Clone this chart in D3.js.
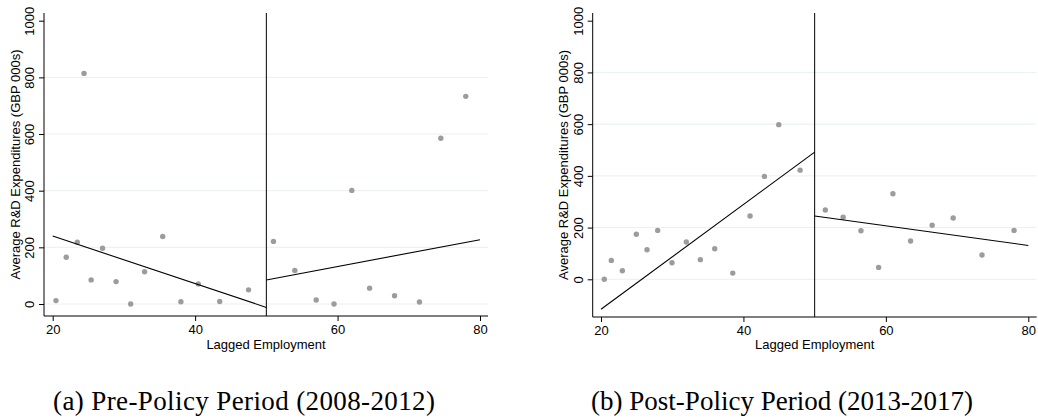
<!DOCTYPE html>
<html>
<head>
<meta charset="utf-8">
<script src="https://cdn.jsdelivr.net/npm/d3@7"></script>
<style>
  html, body { margin: 0; padding: 0; background: #fff; }
  svg { display: block; }
</style>
</head>
<body>
<div id="chart"></div>
<script>
// ----------------------------
// DATA
// ----------------------------
const cutoff = 50;
const xTicks = [20, 40, 60, 80];
const yTicks = [0, 200, 400, 600, 800, 1000];
const gridTicks = [0, 200, 400, 600, 800];

const preX = [20.46, 21.9, 23.45, 24.4, 25.4, 27.0, 28.9, 30.95, 32.9, 35.45, 38.0, 40.45, 43.45, 47.5,
              51.0, 54.0, 57.0, 59.5, 62.0, 64.5, 68.0, 71.5, 74.5, 78.0];
const preY = [12, 165, 218, 814, 85, 197, 79, 0, 114, 238, 8, 71, 9, 50,
              221, 118, 14, 0, 401, 56, 29, 7, 585, 733];
const preFitLeft = [[20, 240], [50, -12]];
const preFitRight = [[50, 85], [80, 227]];

const postX = [20.46, 21.45, 23.0, 24.96, 26.46, 27.96, 29.97, 31.98, 33.95, 35.97, 38.5, 40.93, 42.94, 44.96, 47.96,
               51.5, 54.0, 56.5, 58.98, 60.99, 63.47, 66.5, 69.45, 73.5, 78.0];
const postY = [0, 73, 33, 174, 114, 189, 64, 144, 76, 118, 24, 245, 398, 598, 422,
               268, 240, 188, 46, 331, 148, 209, 237, 94, 189];
const postFitLeft = [[20, -116], [50, 492]];
const postFitRight = [[50, 245], [80, 131]];

const yTitle = "Average R&D Expenditures (GBP 000s)";
const xTitle = "Lagged Employment";
const captions = ["(a) Pre-Policy Period (2008-2012)", "(b) Post-Policy Period (2013-2017)"];

// ----------------------------
// SVG
// ----------------------------
const width = 1038;
const height = 419;
const sans = "'Liberation Sans', Arial, Helvetica, sans-serif";

const svg = d3.select("#chart")
  .append("svg")
  .attr("width", width)
  .attr("height", height);

function drawPanel(p) {
  const g = svg.append("g");

  const x = d3.scaleLinear().domain([20, 80]).range(p.xRange);
  const y = d3.scaleLinear().domain([0, 1000]).range(p.yRange);

  // gridlines
  g.selectAll(".grid")
    .data(gridTicks)
    .join("line")
    .attr("x1", p.axisX).attr("x2", p.xEnd)
    .attr("y1", d => y(d)).attr("y2", d => y(d))
    .attr("stroke", "#e8f0f2")
    .attr("stroke-width", 1);

  // x axis
  const xa = g.append("g")
    .attr("transform", `translate(0,${p.bottom})`)
    .call(d3.axisBottom(x).tickValues(xTicks).tickSize(5).tickPadding(4).tickFormat(d3.format("d")));
  xa.select(".domain").remove();
  xa.selectAll("text").attr("font-family", sans).attr("font-size", 13).attr("fill", "#000");
  xa.selectAll("line").attr("stroke", "#000");
  g.append("line")
    .attr("x1", p.axisX).attr("x2", p.xEnd)
    .attr("y1", p.bottom).attr("y2", p.bottom)
    .attr("stroke", "#000");

  // y axis
  const ya = g.append("g")
    .attr("transform", `translate(${p.axisX},0)`)
    .call(d3.axisLeft(y).tickValues(yTicks).tickSize(5).tickFormat(d3.format("d")));
  ya.select(".domain").remove();
  ya.selectAll("line").attr("stroke", "#000");
  ya.selectAll("text")
    .attr("x", null).attr("dy", null).attr("y", 0)
    .attr("text-anchor", "middle")
    .attr("transform", "translate(-10,0) rotate(-90)")
    .attr("font-family", sans).attr("font-size", 13).attr("fill", "#000");
  g.append("line")
    .attr("x1", p.axisX).attr("x2", p.axisX)
    .attr("y1", p.top).attr("y2", p.bottom)
    .attr("stroke", "#000");

  // cutoff line
  g.append("line")
    .attr("x1", x(cutoff)).attr("x2", x(cutoff))
    .attr("y1", p.top).attr("y2", p.bottom)
    .attr("stroke", "#000");

  // points
  g.selectAll(".dot")
    .data(p.xs.map((v, i) => [v, p.ys[i]]))
    .join("circle")
    .attr("cx", d => x(d[0]))
    .attr("cy", d => y(d[1]))
    .attr("r", 2.7)
    .attr("fill", "#9c9c9c");

  // fit lines
  const line = d3.line().x(d => x(d[0])).y(d => y(d[1]));
  [p.fitLeft, p.fitRight].forEach(f => {
    g.append("path")
      .attr("d", line(f))
      .attr("fill", "none")
      .attr("stroke", "#000")
      .attr("stroke-width", 1.1);
  });

  // axis titles
  const midY = (p.top + p.bottom) / 2;
  g.append("text")
    .attr("transform", `translate(${p.axisX - 24.5},${midY}) rotate(-90)`)
    .attr("text-anchor", "middle")
    .attr("font-family", sans).attr("font-size", 13)
    .text(yTitle);

  g.append("text")
    .attr("x", (p.axisX + p.xEnd) / 2)
    .attr("y", 348.5)
    .attr("text-anchor", "middle")
    .attr("font-family", sans).attr("font-size", 13)
    .text(xTitle);

  // caption
  g.append("text")
    .attr("x", p.capX)
    .attr("y", 410)
    .attr("text-anchor", "middle")
    .attr("font-family", "'Liberation Serif', 'DejaVu Serif', serif")
    .attr("font-size", 27)
    .attr("textLength", 382)
    .attr("lengthAdjust", "spacing")
    .text(p.caption);
}

drawPanel({
  xs: preX, ys: preY, fitLeft: preFitLeft, fitRight: preFitRight,
  axisX: 44, xEnd: 488, xRange: [52.7, 480], yRange: [304, 20.7],
  top: 13, bottom: 316, capX: 244, caption: captions[0]
});

drawPanel({
  xs: postX, ys: postY, fitLeft: postFitLeft, fitRight: postFitRight,
  axisX: 592.7, xEnd: 1036.7, xRange: [601, 1028.3], yRange: [279.3, 20.7],
  top: 13, bottom: 317, capX: 782, caption: captions[1]
});
</script>
</body>
</html>
